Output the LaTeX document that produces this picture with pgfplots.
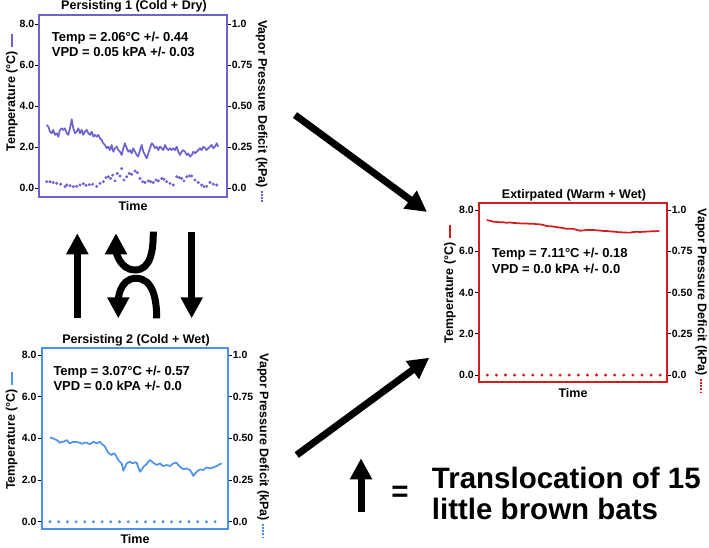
\documentclass[border=0pt]{standalone}
\usepackage{fontspec}
\setmainfont{Liberation Sans}
\usepackage{pgfplots}
\pgfplotsset{compat=1.18}
\usetikzlibrary{arrows.meta}
\definecolor{cpur}{RGB}{108,98,208}
\definecolor{cblu}{RGB}{77,145,240}
\definecolor{cred}{RGB}{212,28,28}
\pgfplotsset{
  tpanel/.style={
    scale only axis, axis line style={#1, line width=1.8pt},
    xtick=\empty, ytick={0,2,4,6,8}, yticklabels={0.0,2.0,4.0,6.0,8.0},
    ytick pos=left, tick align=outside, major tick length=4pt,
    tick style={black, line width=0.8pt},
    yticklabel style={font=\fontsize{10.5}{12}\selectfont\bfseries, inner sep=1pt, black},
    clip=false,
  },
  vpanel/.style={
    scale only axis, axis x line=none, axis y line*=right,
    axis line style={#1, line width=1.8pt},
    ytick={0,0.25,0.5,0.75,1}, yticklabels={0.0,0.25,0.50,0.75,1.0},
    tick align=outside, major tick length=4pt,
    tick style={black, line width=0.8pt},
    yticklabel style={font=\fontsize{10.5}{12}\selectfont\bfseries, inner sep=1pt, black},
    clip=false,
  },
  tline/.style={#1, line width=1.7pt, no marks, line join=round},
  vdots/.style={#1, only marks, mark=*, mark size=1.3pt, mark options={draw=none, fill=#1}},
}
\newcommand{\lab}{\fontsize{12.5}{14}\selectfont\bfseries}
\newcommand{\inn}{\fontsize{13}{15}\selectfont\bfseries}
\begin{document}
\begin{tikzpicture}[x=1pt,y=1pt]
\path[use as bounding box] (0pt,0pt) rectangle (709pt,548pt);

% ---------------- Panel 1 ----------------
\begin{axis}[tpanel=cpur, at={(39.3pt,351.3pt)}, anchor=south west,
  width=187.4pt, height=181.7pt, xmin=39.3, xmax=226.7, ymin=-0.41, ymax=8.44]
\addplot[tline=cpur] coordinates {
(46.7,3.08)(48.3,3.00)(50,2.76)(51.7,2.68)(53.3,2.84)(55,2.60)(56.7,2.68)(58.3,2.51)
(60,2.84)(61.7,2.92)(63.3,2.84)(65,2.92)(66.7,2.68)(68.3,2.60)(70,2.92)(71.7,3.36)
(73.3,2.92)(75,2.68)(76.7,2.76)(78.3,2.92)(80,2.68)(81.7,2.84)(83.3,2.60)(85,2.76)
(86.7,2.84)(88.3,2.68)(90,2.60)(91.7,2.76)(93.3,2.51)(95,2.60)(96.7,2.51)(98.3,2.60)
(100,2.43)(101.7,2.35)(103.3,2.19)(105,2.11)(106.7,1.95)(108.3,2.03)(110,1.86)(111.7,2.11)
(113.3,1.78)(115,1.95)(116.7,2.03)(118.3,1.86)(120,1.78)(121.7,1.62)(123.3,1.95)(125,2.19)
(126.7,1.95)(128.3,1.78)(130,1.86)(131.7,1.70)(133.3,1.95)(135,1.78)(136.7,1.62)(138.3,1.54)
(140,1.86)(141.7,2.11)(143.3,1.78)(145,1.62)(146.7,1.46)(148.3,1.70)(150,1.95)(151.7,2.19)
(153.3,2.11)(155,1.95)(156.7,2.03)(158.3,1.86)(160,2.03)(161.7,1.95)(163.3,1.86)(165,2.11)
(166.7,1.95)(168.3,1.86)(170,1.95)(171.7,1.86)(173.3,1.95)(175,1.86)(176.7,2.03)(178.3,1.78)
(180,1.62)(181.7,1.78)(183.3,1.86)(185,1.78)(186.7,1.62)(188.3,1.70)(190,1.54)(191.7,1.62)
(193.3,1.78)(195,1.70)(196.7,1.78)(198.3,1.86)(200,1.95)(201.7,1.86)(203.3,2.03)(205,1.95)
(206.7,1.86)(208.3,1.95)(210,2.03)(211.7,2.11)(213.3,1.95)(215,2.03)(216.7,2.19)(218.3,2.03)
};
\end{axis}
\begin{axis}[vpanel=cpur, at={(39.3pt,351.3pt)}, anchor=south west,
  width=187.4pt, height=181.7pt, xmin=39.3, xmax=226.7, ymin=-0.05125, ymax=1.055]
\addplot[vdots=cpur] coordinates {
(46.7,0.040)(50,0.040)(53.3,0.035)(56.7,0.030)(60.7,0.025)(65,0.010)(66.7,0.020)(70,0.015)
(73.3,0.010)(76.7,0.012)(80,0.020)(83.3,0.028)(86,0.018)(89.3,0.022)(92.7,0.025)(96.7,0.012)
(100,0.030)(103.3,0.040)(106,0.065)(108.3,0.070)(110.7,0.060)(112.7,0.080)(115,0.045)(117.3,0.090)
(120,0.075)(121.7,0.120)(124,0.050)(126.7,0.070)(129.3,0.090)(131.7,0.085)(135,0.105)(137.3,0.095)
(140,0.060)(142.7,0.040)(145,0.035)(148.3,0.045)(150.7,0.040)(153.3,0.035)(156,0.050)(158.3,0.045)
(161.7,0.060)(164,0.055)(166.7,0.040)(170,0.030)(173.3,0.020)(176.7,0.070)(179.3,0.065)(181.7,0.060)
(184,0.045)(186.7,0.070)(189.3,0.075)(191.7,0.075)(195,0.050)(198.3,0.035)(201.7,0.020)(204,0.010)
(206.7,0.012)(210,0.035)(213.3,0.025)(216.7,0.020)
};
\end{axis}

% ---------------- Panel 2 ----------------
\begin{axis}[tpanel=cblu, at={(41.7pt,18.7pt)}, anchor=south west,
  width=186pt, height=181pt, xmin=41.7, xmax=227.7, ymin=-0.36, ymax=8.32]
\addplot[tline=cblu] coordinates {
(50,4.05)(51.7,4.02)(53.3,4.00)(55,3.95)(56.7,3.92)(58.3,3.86)(60,3.79)(61.7,3.82)(63.3,3.84)
(65,3.88)(66.7,3.92)(68.3,3.82)(70,3.76)(71.7,3.80)(73.3,3.84)(75,3.82)(76.7,3.84)(78.3,3.80)
(80,3.79)(81.7,3.74)(83.3,3.76)(85,3.80)(86.7,3.79)(88.3,3.75)(90,3.73)(91.7,3.78)(93.3,3.84)
(95,3.80)(96.7,3.76)(98.3,3.80)(100,3.84)(101.7,3.73)(103.3,3.68)(105,3.60)(106.7,3.45)
(108.3,3.31)(110,3.25)(111.7,3.20)(113.3,3.28)(115,3.25)(116.7,3.10)(118.3,2.96)(120,2.88)
(121.7,2.80)(123.3,2.45)(125,2.62)(126.7,2.80)(128.3,2.84)(130,2.88)(131.7,2.82)(133.3,2.80)
(135,2.86)(136.7,2.83)(138.3,2.62)(140,2.40)(141.7,2.50)(143.3,2.64)(145,2.70)(146.7,2.77)
(148.3,2.88)(150,2.96)(151.7,2.90)(153.3,2.83)(155,2.78)(156.7,2.72)(158.3,2.76)(160,2.80)
(161.7,2.72)(163.3,2.67)(165,2.70)(166.7,2.72)(168.3,2.70)(170,2.67)(171.7,2.74)(173.3,2.80)
(175,2.82)(176.7,2.83)(178.3,2.72)(180,2.64)(181.7,2.58)(183.3,2.51)(185,2.54)(186.7,2.56)
(188.3,2.52)(190,2.48)(191.7,2.35)(193.3,2.20)(195,2.30)(196.7,2.40)(198.3,2.46)(200,2.51)
(201.7,2.50)(203.3,2.48)(205,2.55)(206.7,2.61)(208.3,2.58)(210,2.56)(211.7,2.58)(213.3,2.61)
(215,2.64)(216.7,2.67)(218.3,2.72)(220,2.77)(221.7,2.80)
};
\end{axis}
\begin{axis}[vpanel=cblu, at={(41.7pt,18.7pt)}, anchor=south west,
  width=186pt, height=181pt, xmin=41.7, xmax=227.7, ymin=-0.045, ymax=1.04]
\addplot[vdots=cblu] coordinates {
(50,0)(58.7,0)(67.4,0)(76.1,0)(84.8,0)(93.4,0)(102.1,0)(110.8,0)(119.5,0)(128.2,0)
(136.9,0)(145.6,0)(154.3,0)(163,0)(171.6,0)(180.3,0)(189,0)(197.7,0)(206.4,0)(215.1,0)
};
\end{axis}

% ---------------- Panel 3 ----------------
\begin{axis}[tpanel=cred, at={(479pt,165.7pt)}, anchor=south west,
  width=187.7pt, height=179.6pt, xmin=479, xmax=666.7, ymin=-0.35, ymax=8.35]
\addplot[tline=cred] coordinates {
(486.7,7.51)(490,7.47)(493.3,7.43)(496.7,7.42)(500,7.40)(503.3,7.40)(506.7,7.38)(510,7.39)
(513.3,7.37)(516.7,7.36)(520,7.35)(523.3,7.34)(526.7,7.34)(530,7.33)(533.3,7.33)(536.7,7.31)
(540,7.30)(543.3,7.27)(546.7,7.22)(550,7.21)(553.3,7.19)(556.7,7.17)(560,7.14)(563.3,7.12)
(566.7,7.08)(570,7.09)(573.3,7.08)(576.7,7.04)(580,6.99)(583.3,7.01)(586.7,7.03)(590,7.03)
(593.3,7.03)(596.7,7.01)(600,7.00)(603.3,6.98)(606.7,6.98)(610,6.96)(613.3,6.95)(616.7,6.93)
(620,6.92)(623.3,6.91)(626.7,6.90)(630,6.90)(633.3,6.93)(636.7,6.94)(640,6.93)(643.3,6.94)
(646.7,6.95)(650,6.96)(653.3,6.97)(656.7,6.97)(659.3,6.98)
};
\end{axis}
\begin{axis}[vpanel=cred, at={(479pt,165.7pt)}, anchor=south west,
  width=187.7pt, height=179.6pt, xmin=479, xmax=666.7, ymin=-0.04375, ymax=1.04375]
\addplot[vdots=cred] coordinates {
(487.3,0)(496.4,0)(505.5,0)(514.6,0)(523.7,0)(532.8,0)(541.9,0)(551,0)(560.1,0)(569.2,0)
(578.3,0)(587.4,0)(596.5,0)(605.6,0)(614.7,0)(623.8,0)(632.9,0)(642,0)(651.1,0)(660.2,0)
};
\end{axis}

% ---------------- titles and labels ----------------
\node[anchor=base, inner sep=0pt, font=\lab] at (134pt,538pt) {Persisting 1 (Cold + Dry)};
\node[anchor=base, inner sep=0pt, font=\lab] at (136pt,204pt) {Persisting 2 (Cold + Wet)};
\node[anchor=base, inner sep=0pt, font=\lab] at (574pt,349.7pt) {Extirpated (Warm + Wet)};
\node[anchor=base, inner sep=0pt, font=\lab] at (133pt,337.5pt) {Time};
\node[anchor=base, inner sep=0pt, font=\lab] at (135pt,4pt) {Time};
\node[anchor=base, inner sep=0pt, font=\lab] at (573pt,150.7pt) {Time};

\node[anchor=base west, inner sep=0pt, font=\inn] at (51.7pt,506.3pt) {Temp = 2.06°C +/- 0.44};
\node[anchor=base west, inner sep=0pt, font=\inn] at (51.7pt,491.3pt) {VPD = 0.05 kPA +/- 0.03};
\node[anchor=base west, inner sep=0pt, font=\inn] at (53.3pt,172pt) {Temp = 3.07°C +/- 0.57};
\node[anchor=base west, inner sep=0pt, font=\inn] at (53.3pt,157.3pt) {VPD = 0.0 kPA +/- 0.0};
\node[anchor=base west, inner sep=0pt, font=\inn] at (491.7pt,290.3pt) {Temp = 7.11°C +/- 0.18};
\node[anchor=base west, inner sep=0pt, font=\inn] at (491.7pt,274.7pt) {VPD = 0.0 kPA +/- 0.0};

% left labels with solid line
\node[rotate=90, anchor=west, inner sep=0pt, font=\lab] (tl1) at (12pt,396.3pt) {Temperature (°C)};
\draw[cpur, line width=1.6pt] ([yshift=4pt]tl1.east) -- ++(0pt,13pt);
\node[rotate=90, anchor=west, inner sep=0pt, font=\lab] (tl2) at (11.7pt,58pt) {Temperature (°C)};
\draw[cblu, line width=1.6pt] ([yshift=4pt]tl2.east) -- ++(0pt,13pt);
\node[rotate=90, anchor=west, inner sep=0pt, font=\lab] (tl3) at (450pt,204.7pt) {Temperature (°C)};
\draw[cred, line width=1.6pt] ([yshift=4pt]tl3.east) -- ++(0pt,13pt);

% right labels with dotted line
\node[rotate=-90, anchor=west, inner sep=0pt, font=\lab] (vl1) at (261.7pt,528pt) {Vapor Pressure Deficit (kPa)};
\draw[cpur, line width=1.7pt, dash pattern=on 1.7pt off 1.4pt] ([yshift=-3pt]vl1.east) -- ++(0pt,-12pt);
\node[rotate=-90, anchor=west, inner sep=0pt, font=\lab] (vl2) at (263pt,194.7pt) {Vapor Pressure Deficit (kPa)};
\draw[cblu, line width=1.7pt, dash pattern=on 1.7pt off 1.4pt] ([yshift=-3pt]vl2.east) -- ++(0pt,-14pt);
\node[rotate=-90, anchor=west, inner sep=0pt, font=\lab] (vl3) at (701pt,339.7pt) {Vapor Pressure Deficit (kPa)};
\draw[cred, line width=1.7pt, dash pattern=on 1.7pt off 1.4pt] ([yshift=-3pt]vl3.east) -- ++(0pt,-14pt);

% ---------------- arrows ----------------
\tikzset{bigarrow/.style={line width=7pt, -{Triangle[width=21pt,length=21pt]}}}
\draw[bigarrow] (295pt,433pt) -- (427pt,336pt);
\draw[bigarrow] (296.7pt,93pt) -- (429.3pt,190.3pt);
\draw[bigarrow] (77.3pt,229.7pt) -- (77.3pt,314.7pt);
\draw[bigarrow] (191.7pt,316.3pt) -- (191.7pt,229.7pt);
\draw[bigarrow] (153.3pt,316.3pt) to[out=-90,in=0] (135pt,278pt) to[out=180,in=-90] (116pt,314.7pt);
\draw[bigarrow] (156.7pt,229.7pt) to[out=90,in=0] (136pt,269.7pt) to[out=180,in=90] (118.3pt,229.7pt);
\draw[bigarrow] (361pt,36.3pt) -- (361pt,89.7pt);

% ---------------- legend text ----------------
\node[inner sep=0pt, font=\fontsize{29.5}{32}\selectfont\bfseries] at (400pt,54pt) {=};
\node[anchor=base west, inner sep=0pt, font=\fontsize{29.5}{32}\selectfont\bfseries] at (431.7pt,59.7pt) {Translocation of 15};
\node[anchor=base west, inner sep=0pt, font=\fontsize{29.5}{32}\selectfont\bfseries] at (431.7pt,28pt) {little brown bats};
\end{tikzpicture}
\end{document}
